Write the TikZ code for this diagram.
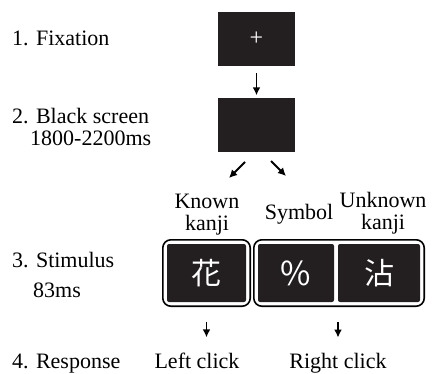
\documentclass[tikz,border=0pt]{standalone}
\usepackage{fontspec}
\setmainfont{Liberation Serif}
\newfontfamily\jpfont{Noto Sans CJK JP}
\usetikzlibrary{positioning, fit, arrows.meta}

\definecolor{screen}{HTML}{231F20}

\tikzset{
  monitor/.style={fill=screen, minimum width=77pt, minimum height=54pt, inner sep=0pt},
  stim/.style={fill=screen, rounded corners=2pt, minimum height=58pt, inner sep=0pt,
    text=white, font=\jpfont\fontsize{30}{30}\selectfont},
  groupframe/.style={draw, line width=1.6pt, rounded corners=8pt, inner sep=4pt},
  stage/.style={inner sep=0pt, anchor=base west},
  caption/.style={inner sep=0pt, anchor=base, align=center},
}

\begin{document}
\begin{tikzpicture}[x=1pt, y=-1pt, font=\fontsize{22}{22}\selectfont]

\useasboundingbox (0,0) rectangle (433,374);

% stages on the left
\node[stage] (st1) at (12,46) {1. Fixation};
\node[stage] (st2) at (12,124) {2. Black screen};
\node[stage] (t2) at (30,146) {1800-2200ms};
\node[stage] (st3) at (12,267) {3. Stimulus};
\node[stage] (t3) at (33,297) {83ms};
\node[stage] (st4) at (12,368) {4. Response};

% screens
\node[monitor] (fix) at (256.5,39) {\textcolor{white}{\fontsize{24}{24}\selectfont +}};
\node[monitor] (blank) at (256.5,125.5) {};

% stimuli
\node[stim, minimum width=79pt] (known) at (206.5,273) {花};
\node[stim, minimum width=76pt] (symbol) at (296,273) {\fontsize{33}{33}\selectfont \%};
\node[stim, minimum width=82pt] (unknown) at (379,273) {沾};
\node[groupframe, fit=(known)] (kframe) {};
\node[groupframe, fit=(symbol) (unknown)] (uframe) {};

\node[caption] (kcap) at (207,230) {Known\\kanji};
\node[caption] (scap) at (299,219) {Symbol};
\node[caption] (ucap) at (383,229) {Unknown\\kanji};

% responses
\node[inner sep=0pt, anchor=base] (lclick) at (197,368) {Left click};
\node[inner sep=0pt, anchor=base] (rclick) at (338,368) {Right click};

\coordinate (dla) at (245,162);
\coordinate (dlb) at (229,178);
\coordinate (dra) at (271,161);
\coordinate (drb) at (286,176);

\begin{scope}[>={Latex[length=8pt, width=8pt]}, line width=1.8pt]
\draw[->, shorten <=7pt, shorten >=3pt] (fix) -- (blank);
\draw[->] (dla) -- (dlb);
\draw[->] (dra) -- (drb);
\draw[->, shorten <=15pt, shorten >=15pt] (kframe.south) -- (kframe.south |- lclick.north);
\draw[->, shorten <=15pt, shorten >=15pt] (rclick |- uframe.south) -- (rclick);
\end{scope}

\end{tikzpicture}
\end{document}
